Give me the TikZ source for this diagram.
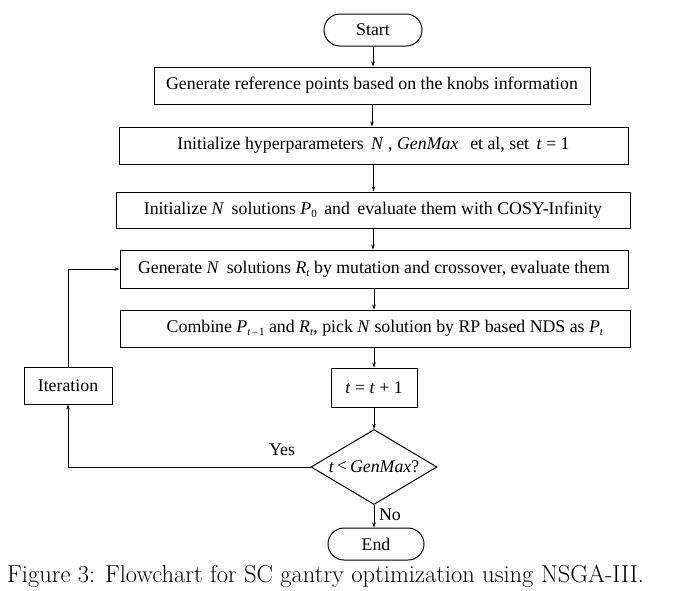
\documentclass[tikz,border=0pt]{standalone}
\usepackage{fontspec}
\newfontfamily\tnr{Liberation Serif}
\usetikzlibrary{arrows.meta,shapes.geometric}
\newcommand{\iv}[1]{\textit{#1}}
\newcommand{\sbs}[1]{\raisebox{-0.35ex}{\fontsize{11}{11}\selectfont #1}}
\begin{document}
\begin{tikzpicture}[x=1pt,y=-1pt,
  every node/.style={font=\tnr\fontsize{17.8}{21}\selectfont},
  proc/.style={draw,line width=1pt,inner sep=0pt},
  term/.style={draw,line width=1pt,rounded corners=16pt,inner sep=0pt},
  dec/.style={draw,line width=1pt,diamond,aspect=2,inner sep=0pt,minimum width=126pt,minimum height=75pt},
  arr/.style={line width=1pt,-{Stealth[length=5pt,width=3.5pt]}},
  lbl/.style={inner sep=0pt}]
\useasboundingbox (0,0) rectangle (690,590);
\fill[white] (0,0) rectangle (690,590);
\node[term,minimum width=98pt,minimum height=32pt] (start) at (373,30) {Start};
\node[proc,minimum width=436pt,minimum height=37pt] (b1) at (372,85.5) {Generate reference points based on the knobs information};
\node[proc,minimum width=509pt,minimum height=37pt] (b2) at (373.5,145.5) {Initialize hyperparameters \,\iv{N} , \iv{GenMax} \, et al, set \,\iv{t} = 1};
\node[proc,minimum width=514pt,minimum height=36pt] (b3) at (373,210) {Initialize \iv{N} \,solutions \iv{P}\sbs{0} \,and \,evaluate them with COSY-Infinity};
\node[proc,minimum width=508pt,minimum height=38pt] (b4) at (374,269) {Generate \iv{N} \,solutions \iv{R}\sbs{\iv{t}} by mutation and crossover, evaluate them};
\node[proc,minimum width=510pt,minimum height=37pt] (b5) at (375,328.5) {\hspace{20pt}Combine \iv{P}\sbs{\iv{t}$-$1} and \iv{R}\sbs{\iv{t}}, pick \iv{N} solution by RP based NDS as \iv{P}\sbs{\iv{t}}};
\node[proc,minimum width=86pt,minimum height=39pt] (b6) at (374,387.5) {\iv{t} = \iv{t} + 1};
\node[proc,minimum width=88pt,minimum height=37pt] (it) at (68,385.5) {Iteration};
\node[dec] (dia) at (374,467) {\iv{t}\,{\raisebox{0.1ex}{<}}\,\iv{GenMax}?};
\node[term,minimum width=96pt,minimum height=32pt] (end) at (376,544) {End};
\node[lbl] (yes) at (282,450) {Yes};
\node[lbl] (no) at (390,515) {No};
\node[lbl,anchor=west,font=\fontsize{24.5}{28}\selectfont] (cap) at (7,576) {Figure 3: Flowchart for SC gantry optimization using NSGA-III.};
\draw[arr] (start.south) -- (start.south |- b1.north);
\draw[arr] (b1.south) -- (b1.south |- b2.north);
\draw[arr] (b2.south) -- (b2.south |- b3.north);
\draw[arr] (b3.south) -- (b3.south |- b4.north);
\draw[arr] (b4.south) -- (b4.south |- b5.north);
\draw[arr] (b4.south |- b5.south) -- (b4.south |- b6.north);
\draw[arr] (dia.north |- b6.south) -- (dia.north);
\draw[arr] (dia.south) -- (dia.south |- end.north);
\draw[arr] (dia.west) -| (it.south);
\draw[arr] (it.north) |- (b4.west);
\end{tikzpicture}
\end{document}
